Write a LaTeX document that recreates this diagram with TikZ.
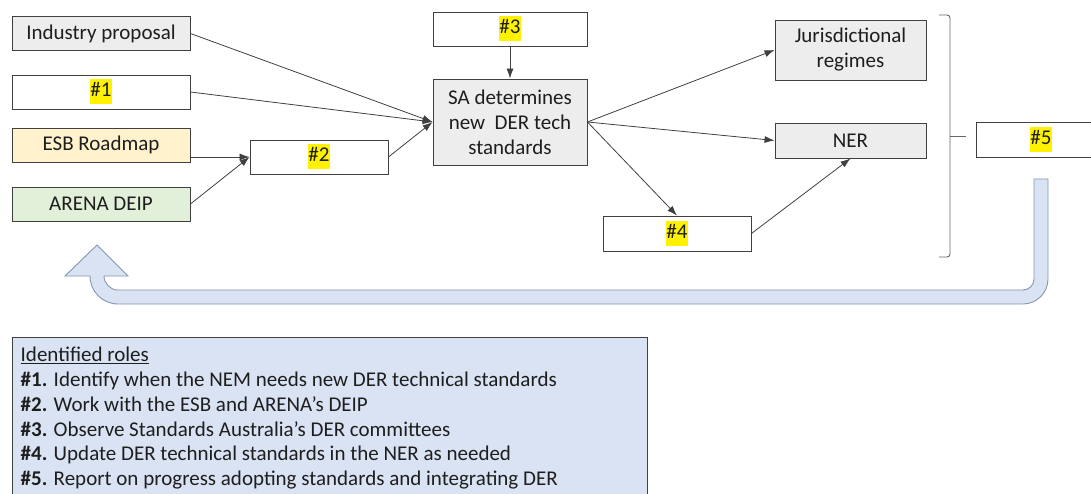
\documentclass[tikz,border=0pt]{standalone}
\usepackage{fontspec}
\setmainfont{Carlito}
\usetikzlibrary{arrows.meta}
\definecolor{boxgrey}{HTML}{EDEDED}
\definecolor{esbfill}{HTML}{FFF2CC}
\definecolor{arenafill}{HTML}{E2F0D9}
\definecolor{rolefill}{HTML}{DAE3F3}
\definecolor{loopedge}{HTML}{8497B0}
\definecolor{edgegrey}{HTML}{404040}
\definecolor{inkgrey}{HTML}{1E1E1E}
\def\hl#1{{\fboxsep=0pt\colorbox{yellow}{\strut#1}}}
\tikzset{
  box/.style={draw=edgegrey, line width=0.9pt, minimum width=178, minimum height=34,
    inner sep=0pt, text=inkgrey, font=\fontsize{21}{25}\selectfont, align=center},
  link/.style={draw=edgegrey, line width=0.8pt, -{Latex[length=10pt,width=7pt]}},
}

\begin{document}
\begin{tikzpicture}[x=1pt,y=-1pt]
  \useasboundingbox (0,0) rectangle (1091,494);
  % inputs
  \node[box, fill=boxgrey] (ind) at (101,33.5) {Industry proposal};
  \node[box] (one) at (101,92) {\hl{\#1}};
  \node[box, fill=esbfill] (esb) at (101,145) {ESB Roadmap};
  \node[box, fill=arenafill] (arena) at (101,204) {ARENA DEIP};
  \node[box, minimum width=138] (two) at (319,157) {\hl{\#2}};
  \node[box, minimum width=154] (three) at (510,29) {\hl{\#3}};
  \node[box, fill=boxgrey, minimum width=154, minimum height=86] (sa) at (510,122)
    {SA determines\\new\ \ DER tech\\standards};
  % outputs
  \node[box, fill=boxgrey, minimum width=151, minimum height=60] (jur) at (850.5,50)
    {Jurisdictional\\regimes};
  \node[box, fill=boxgrey, minimum width=151, minimum height=35] (ner) at (850.5,140.5) {NER};
  \node[box, minimum width=148, minimum height=35] (four) at (677,233.5) {\hl{\#4}};
  \node[box, minimum width=130, minimum height=35] (five) at (1041,139.5) {\hl{\#5}};

  \draw[link] (ind.east) -- (sa.west);
  \draw[link] (one.east) -- (sa.west);
  \draw[link] (esb.east |- two.west) -- (two.west);
  \draw[link] (arena.east) -- (two.west);
  \draw[link] (two.east) -- (sa.west);
  \draw[link] (three.south) -- (sa.north);
  \draw[link] (sa.east) -- (jur.west);
  \draw[link] (sa.east) -- (ner.west);
  \draw[link] (sa.east) -- (four.north);
  \draw[link] (four.east) -- (ner.south);

  % bracket
  \coordinate (tick) at (966,136);
  \draw[edgegrey!80, line width=0.9pt, rounded corners=3]
    (939,15) -- (950,15) -- (950,257) -- (939,257);
  \draw[edgegrey!80, line width=0.9pt] (950,136) -- (tick);

  % feedback arrow
  \filldraw[fill=rolefill, draw=loopedge, line width=0.9pt]
    (1034,179) -- (1048,179) -- (1048,279) arc[start angle=0, end angle=90, radius=25]
    -- (118,304) arc[start angle=90, end angle=180, radius=28]
    -- (65,276) -- (97,245) -- (128,276) -- (104,276)
    arc[start angle=180, end angle=90, radius=14]
    -- (1023,290) arc[start angle=90, end angle=0, radius=11] -- cycle;

  % roles
  \draw[edgegrey, fill=rolefill, line width=0.9pt] (12,337) rectangle (647,500);
  \node[anchor=north west, inner sep=0pt, align=left, text=inkgrey,
    font=\fontsize{21}{24.8}\selectfont] (roles) at (20.5,347)
    {\underline{Identified roles}\\
     \textbf{\#1.} Identify when the NEM needs new DER technical standards\\
     \textbf{\#2.} Work with the ESB and ARENA's DEIP\\
     \textbf{\#3.} Observe Standards Australia's DER committees\\
     \textbf{\#4.} Update DER technical standards in the NER as needed\\
     \textbf{\#5.} Report on progress adopting standards and integrating DER};
\end{tikzpicture}
\end{document}
